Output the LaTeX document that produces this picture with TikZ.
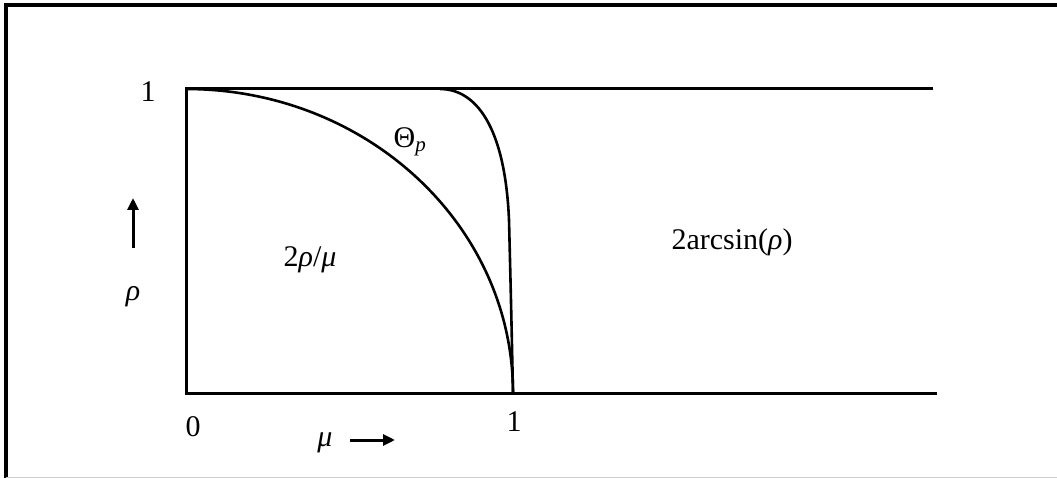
\documentclass[tikz,border=0pt]{standalone}
\usepackage{fontspec}
\setmainfont{Liberation Serif}
\usetikzlibrary{arrows.meta}
\begin{document}
\begin{tikzpicture}[x=1pt,y=-1pt,
  lbl/.style={inner sep=0pt, font=\fontsize{30}{36}\selectfont},
  axis/.style={line width=3pt},
  curve/.style={line width=2.6pt, line join=round},
  pointer/.style={line width=3pt, -{Triangle[length=12pt,width=11pt]}}]
\useasboundingbox (0,0) rectangle (1057,478);
\draw[line width=3.2pt] (1060,5) -- (6,5) -- (6,478);
\draw[gray!40, line width=1pt] (6,477.5) -- (1057,477.5);
\coordinate (o) at (186,393);
\coordinate (t) at (186,89);
\coordinate (tr) at (933,89);
\coordinate (br) at (937,393);
\coordinate (m1) at (513,393);
\coordinate (th0) at (440,89);
\coordinate (thm) at (509,220);
\draw[axis] (tr) -- (t) -- (o) -- (br);
\draw[curve] (t) arc[start angle=90, end angle=0, x radius=327pt, y radius=304pt];
\draw[curve] (th0) .. controls (475,89) and (505,125) .. (thm)
             .. controls (511,300) .. (m1);
\node[lbl] (one) at (148,92) {1};
\node[lbl] (zero) at (193,427) {0};
\node[lbl] (onex) at (514,422) {1};
\node[lbl] (theta) at (410,142) {Θ\textsubscript{\itshape p}};
\node[lbl] (rm) at (310,260) {2\textit{ρ}/\textit{μ}};
\node[lbl] (as) at (732,242) {2arcsin(\textit{ρ})};
\node[lbl] (rho) at (133,297) {\textit{ρ}};
\node[lbl] (mu) at (325,443) {\textit{μ}};
\coordinate (ua0) at (133,248);
\coordinate (ua1) at (133,198);
\draw[pointer] (ua0) -- (ua1);
\coordinate (ra0) at (350,440);
\coordinate (ra1) at (395,440);
\draw[pointer] (ra0) -- (ra1);
\end{tikzpicture}
\end{document}
